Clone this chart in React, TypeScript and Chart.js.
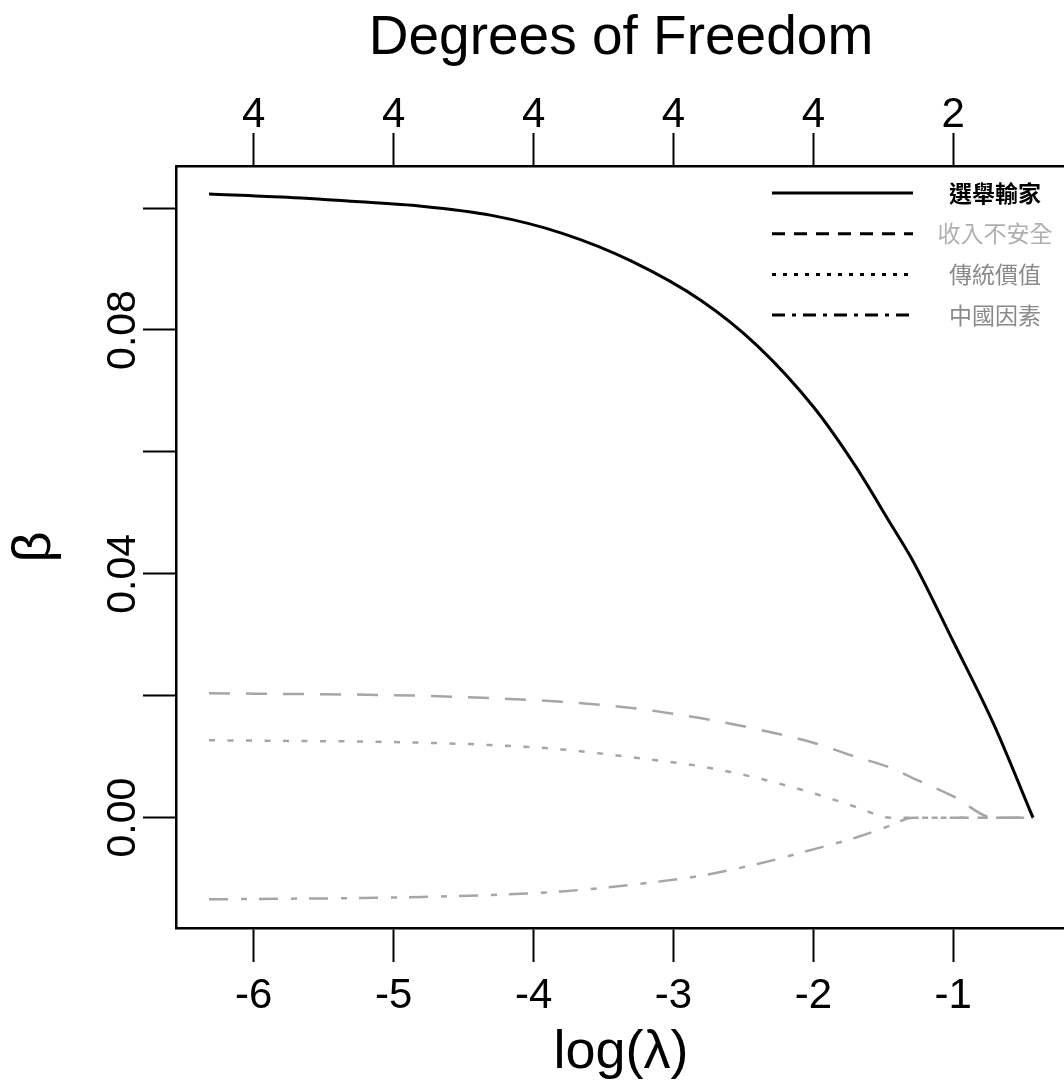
import React, { useEffect, useRef } from "react";
import { Chart, registerables } from "chart.js";

Chart.register(...registerables);

// ---- data ----
const logLambda = [-6.32, -5.8, -5.3, -4.8, -4.3, -3.8, -3.3, -2.8, -2.4, -2.0, -1.7, -1.45, -1.29, -1.0, -0.71, -0.43];
const seriesNames = ["選舉輸家", "收入不安全", "傳統價值", "中國因素"];
const electionLoser = [0.1023, 0.1018, 0.1011, 0.1003, 0.0988, 0.0959, 0.0913, 0.0848, 0.0774, 0.0674, 0.0577, 0.0483, 0.0422, 0.0289, 0.0153, 0.0];
const incomeInsecurity = [0.0204, 0.0203, 0.0202, 0.02, 0.0196, 0.019, 0.018, 0.0163, 0.0145, 0.0123, 0.01, 0.0082, 0.0065, 0.0035, 0.0, 0.0];
const traditionalValues = [0.0127, 0.0126, 0.0125, 0.0123, 0.0119, 0.0112, 0.0099, 0.0084, 0.0065, 0.004, 0.0018, 0.0, 0.0, 0.0, 0.0, 0.0];
const chinaFactor = [-0.0134, -0.0133, -0.0132, -0.013, -0.0127, -0.0121, -0.011, -0.0095, -0.0076, -0.0052, -0.0033, -0.0013, 0.0, 0.0, 0.0, 0.0];

const xTicks = [-6, -5, -4, -3, -2, -1];
const xTickLabels = ["-6", "-5", "-4", "-3", "-2", "-1"];
const dfLabels = ["4", "4", "4", "4", "4", "2"];
const yTicks = [0, 0.02, 0.04, 0.06, 0.08, 0.1];
const yLabelValues = [0, 0.04, 0.08];
const yLabelTexts = ["0.00", "0.04", "0.08"];

const X_MIN = -6.556;
const X_MAX = -0.194;
const Y_MIN = -0.0181;
const Y_MAX = 0.1069;

const lineColors = ["#000000", "#a6a6a6", "#a6a6a6", "#a6a6a6"];
const lineWidths = [3, 2.5, 2.5, 2.5];
const lineDashes: number[][] = [[], [21, 16], [6, 12.5], [19, 13, 6, 12]];
const legendDashes: number[][] = [[], [13, 9], [4, 7], [13, 7, 4, 7]];
const legendTextColors = ["#000000", "#b0b0b0", "#8a8a8a", "#8a8a8a"];

const FONT = "'Liberation Sans', Arial, sans-serif";

const labelsPlugin = {
  id: "rLabels",
  afterDraw(chart: any) {
    const ctx = chart.ctx as CanvasRenderingContext2D;
    const xs = chart.scales.x;
    const ys = chart.scales.y;
    const ca = chart.chartArea;
    ctx.save();
    ctx.fillStyle = "#000";
    ctx.textAlign = "center";
    ctx.textBaseline = "alphabetic";
    ctx.font = `42px ${FONT}`;
    xTicks.forEach((v, i) => {
      const px = xs.getPixelForValue(v);
      ctx.fillText(xTickLabels[i], px, 1008);
      ctx.fillText(dfLabels[i], px, 127);
    });
    ctx.font = `41px ${FONT}`;
    yLabelValues.forEach((v, i) => {
      const py = ys.getPixelForValue(v);
      ctx.save();
      ctx.translate(135, py);
      ctx.rotate(-Math.PI / 2);
      ctx.fillText(yLabelTexts[i], 0, 0);
      ctx.restore();
    });
    const cx = (ca.left + ca.right) / 2;
    ctx.font = `55px ${FONT}`;
    ctx.fillText("Degrees of Freedom", cx, 54);
    ctx.font = `54px ${FONT}`;
    ctx.fillText("log(λ)", cx, 1068);
    ctx.save();
    ctx.translate(50, (ca.top + ca.bottom) / 2);
    ctx.rotate(-Math.PI / 2);
    ctx.fillText("β", 0, 0);
    ctx.restore();

    // legend
    seriesNames.forEach((name, i) => {
      const ly = 193 + i * 40.7;
      ctx.save();
      ctx.strokeStyle = "#000";
      ctx.lineWidth = 3;
      ctx.setLineDash(legendDashes[i]);
      ctx.beginPath();
      ctx.moveTo(772, ly);
      ctx.lineTo(913, ly);
      ctx.stroke();
      ctx.restore();
      ctx.fillStyle = legendTextColors[i];
      ctx.textBaseline = "middle";
      ctx.font = `${i === 0 ? "bold " : ""}23px 'Noto Sans CJK TC', sans-serif`;
      ctx.fillText(name, 995, ly);
    });
    ctx.restore();
  },
};

export default function App() {
  const ref = useRef<HTMLCanvasElement | null>(null);
  useEffect(() => {
    if (!ref.current) return;
    const allSeries = [electionLoser, incomeInsecurity, traditionalValues, chinaFactor];
    const gridOpts = (len: number) => ({
      drawOnChartArea: false,
      drawTicks: true,
      tickLength: len,
      tickColor: "#000",
      tickWidth: 2,
    });
    const borderOpts = { display: true, color: "#000", width: 2.5 };
    const chart = new Chart(ref.current, {
      type: "line",
      data: {
        datasets: allSeries.map((vals, i) => ({
          label: seriesNames[i],
          data: logLambda.map((x, j) => ({ x, y: vals[j] })),
          borderColor: lineColors[i],
          borderWidth: lineWidths[i],
          borderDash: lineDashes[i],
          pointRadius: 0,
          fill: false,
          cubicInterpolationMode: "monotone" as const,
        })),
      },
      options: {
        animation: false,
        responsive: false,
        devicePixelRatio: 1,
        layout: { padding: { left: 0, right: 4, top: 0, bottom: 0 } },
        plugins: { legend: { display: false }, tooltip: { enabled: false } },
        scales: {
          x: {
            type: "linear",
            position: "bottom",
            min: X_MIN,
            max: X_MAX,
            afterBuildTicks: (s: any) => {
              s.ticks = xTicks.map((v) => ({ value: v }));
            },
            afterFit: (s: any) => {
              s.height = 158;
            },
            ticks: { display: false },
            grid: gridOpts(34),
            border: borderOpts,
          },
          x2: {
            type: "linear",
            position: "top",
            min: X_MIN,
            max: X_MAX,
            afterBuildTicks: (s: any) => {
              s.ticks = xTicks.map((v) => ({ value: v }));
            },
            afterFit: (s: any) => {
              s.height = 166;
            },
            ticks: { display: false },
            grid: gridOpts(33),
            border: borderOpts,
          },
          y: {
            type: "linear",
            position: "left",
            min: Y_MIN,
            max: Y_MAX,
            afterBuildTicks: (s: any) => {
              s.ticks = yTicks.map((v) => ({ value: v }));
            },
            afterFit: (s: any) => {
              s.width = 176;
            },
            ticks: { display: false },
            grid: gridOpts(33),
            border: borderOpts,
          },
        },
      } as any,
      plugins: [labelsPlugin],
    });
    return () => chart.destroy();
  }, []);

  return (
    <div
      style={{
        position: "absolute",
        left: 0,
        top: 0,
        width: 1064,
        height: 1086,
        overflow: "hidden",
        background: "#fff",
      }}
    >
      <canvas ref={ref} width={1070} height={1086} style={{ width: 1070, height: 1086, display: "block" }} />
    </div>
  );
}
